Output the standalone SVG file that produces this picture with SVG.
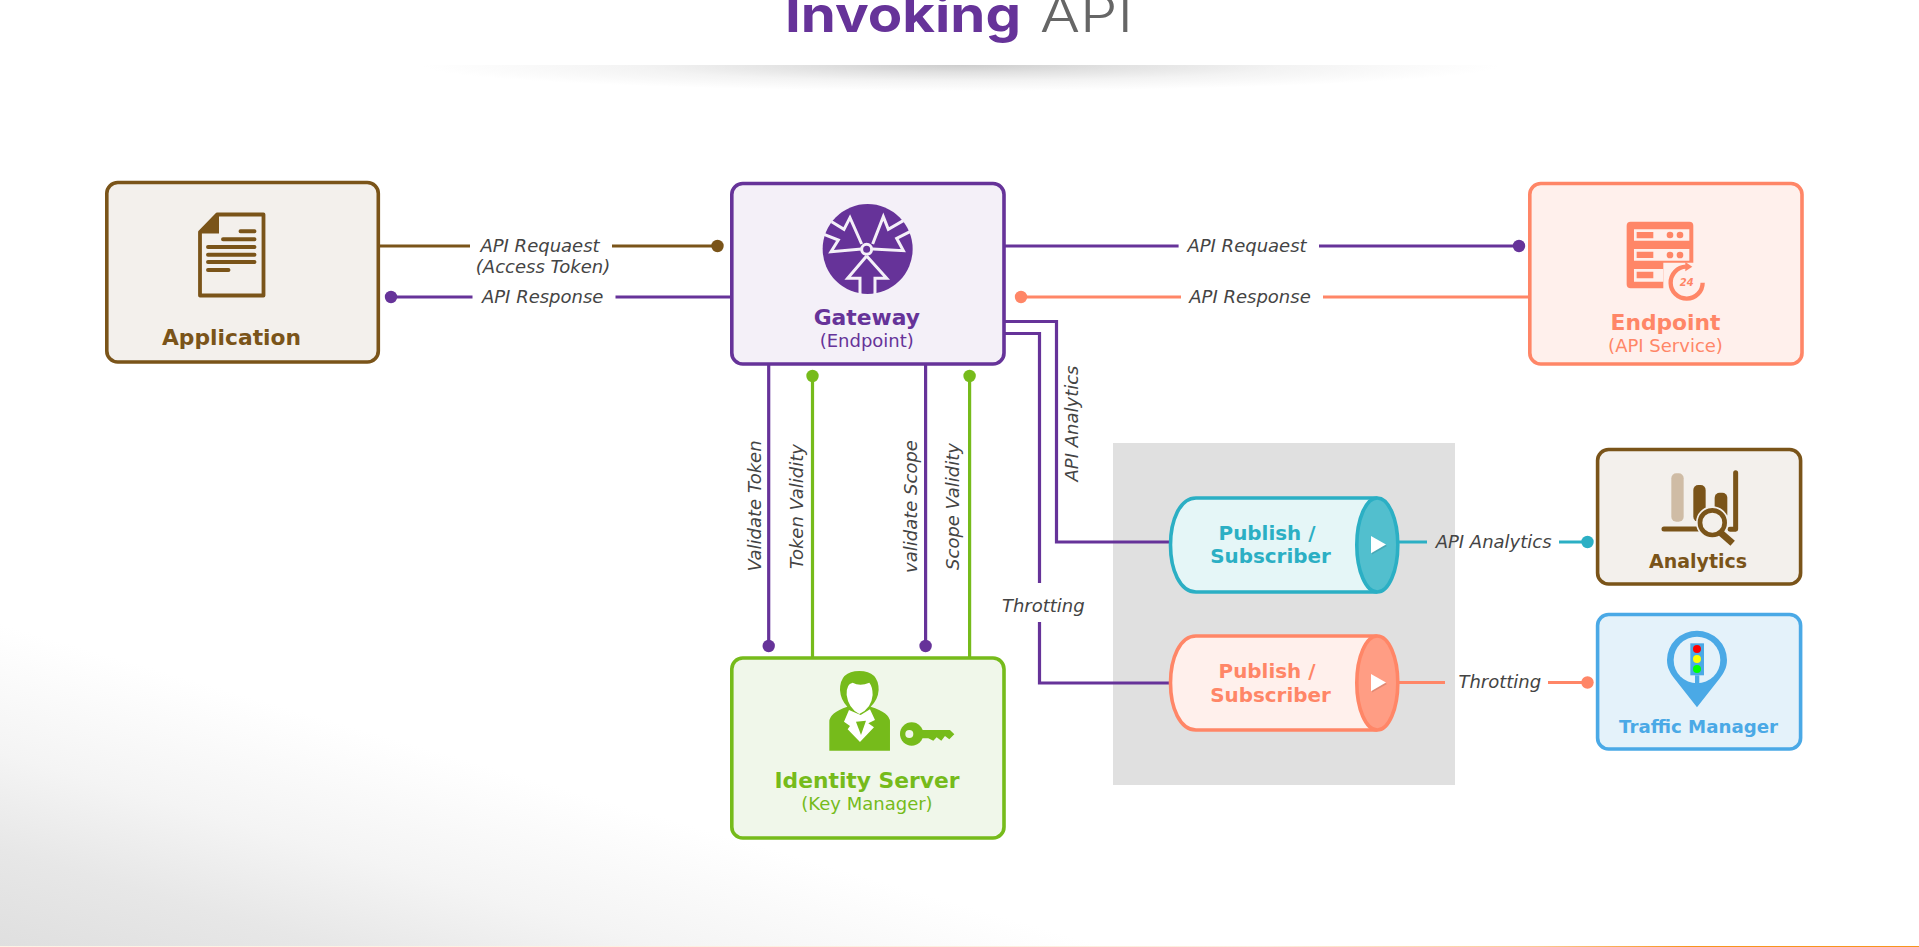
<svg xmlns="http://www.w3.org/2000/svg" width="1919" height="947" viewBox="0 0 1919 947">
<style>
text{font-family:"DejaVu Sans",sans-serif}
.box{stroke-width:3.6}
.b{font-weight:700;font-size:21.8px;text-anchor:middle}
.s{font-size:18px;text-anchor:middle}
.p{font-weight:700;font-size:19.9px;text-anchor:middle}
.e{font-size:18px;font-style:italic;fill:#444;text-anchor:middle}
.c{fill:none;stroke-width:3.2}
.brown{stroke:#7a5419}.purple{stroke:#663399}.salmon{stroke:#ff8667}.green{stroke:#76bb1b}.cyan{stroke:#2bafc4}
.dbrown{fill:#7a5419}.dpurple{fill:#663399}.dsalmon{fill:#ff8667}.dgreen{fill:#76bb1b}.dcyan{fill:#2bafc4}
</style>
<defs>
<linearGradient id="bg" gradientUnits="userSpaceOnUse" x1="0" y1="947" x2="87" y2="649">
<stop offset="0" stop-color="#dfdfdf"/><stop offset=".3" stop-color="#e7e7e7"/><stop offset=".6" stop-color="#f4f4f4"/><stop offset="1" stop-color="#fff"/>
</linearGradient>
<linearGradient id="bar"><stop offset="0" stop-color="#fff2e4"/><stop offset=".66" stop-color="#fdeedd"/><stop offset=".8" stop-color="#fbc994"/><stop offset=".88" stop-color="#f7941e"/><stop offset="1" stop-color="#f7941e"/></linearGradient>
<radialGradient id="sh"><stop offset="0" stop-color="#cdcdcd"/><stop offset=".3" stop-color="#e2e2e2"/><stop offset=".6" stop-color="#f3f3f3"/><stop offset="1" stop-color="#fff"/></radialGradient>
<clipPath id="shc"><rect x="400" y="65" width="1120" height="40"/></clipPath>
</defs>
<rect width="1919" height="947" fill="url(#bg)"/>
<rect y="946" width="1919" height="1" fill="url(#bar)"/>
<g id="title">
<ellipse cx="961" cy="65" rx="540" ry="26" fill="url(#sh)" clip-path="url(#shc)"/>
<text x="785" y="32" font-size="50" font-weight="700" fill="#663399" textLength="236" lengthAdjust="spacingAndGlyphs" style="font-family:Inter,sans-serif">Invoking</text>
<text x="1040" y="32" font-size="50" font-weight="300" fill="#666" textLength="93" lengthAdjust="spacingAndGlyphs" style="font-family:Inter,sans-serif">API</text>
</g>
<rect id="queue-zone" x="1113" y="443" width="342" height="342" fill="#e0e0e0"/>
<g id="connectors">
<path class="c brown" d="M379 246H470M612 246H717"/><circle class="dbrown" cx="717.5" cy="246" r="6.2"/>
<path class="c purple" d="M391 297H472.5M615.5 297H731"/><circle class="dpurple" cx="391" cy="297" r="6.2"/>
<path class="c purple" d="M1005 246H1178.6M1319 246H1519"/><circle class="dpurple" cx="1519" cy="246" r="6.2"/>
<path class="c salmon" d="M1021 297H1181M1323 297H1528"/><circle class="dsalmon" cx="1021" cy="297" r="6.2"/>
<path class="c purple" d="M768.7 365V646"/><circle class="dpurple" cx="768.7" cy="646" r="6.2"/>
<path class="c green" d="M812.5 376V657"/><circle class="dgreen" cx="812.5" cy="376" r="6.2"/>
<path class="c purple" d="M925.6 365V646"/><circle class="dpurple" cx="925.6" cy="646" r="6.2"/>
<path class="c green" d="M969.6 376V657"/><circle class="dgreen" cx="969.6" cy="376" r="6.2"/>
<path class="c purple" d="M1005 321.5H1056.5V542H1170"/>
<path class="c purple" d="M1005 333.5H1039.5V583M1039.5 622V683H1170"/>
<path class="c cyan" d="M1399 542H1427M1559 542H1587"/><circle class="dcyan" cx="1587.5" cy="542" r="6.2"/>
<path class="c salmon" d="M1399 682.5H1445M1548 682.5H1587"/><circle class="dsalmon" cx="1587.5" cy="682.5" r="6.2"/>
<text class="e" x="540" y="252">API Requaest</text>
<text class="e" x="543" y="273">(Access Token)</text>
<text class="e" x="542.7" y="303">API Response</text>
<text class="e" x="1247" y="252">API Requaest</text>
<text class="e" x="1250" y="303">API Response</text>
<text class="e" transform="translate(760.7 506) rotate(-90)">Validate Token</text>
<text class="e" transform="translate(802.7 506.5) rotate(-90)">Token Validity</text>
<text class="e" transform="translate(917.3 506.5) rotate(-90)">validate Scope</text>
<text class="e" transform="translate(959.3 506.5) rotate(-90)">Scope Validity</text>
<text class="e" transform="translate(1078 423.5) rotate(-90)">API Analytics</text>
<text class="e" x="1043.3" y="611.7">Throtting</text>
<text class="e" x="1493.6" y="547.7">API Analytics</text>
<text class="e" x="1499.8" y="688.3">Throtting</text>
</g>
<g id="application">
<rect class="box" x="106.8" y="182.5" width="271.5" height="179.5" rx="11" fill="#f3f0ec" stroke="#7a5419"/>
<path d="M217 214.5H263.5V295.5H200V232Z" fill="none" stroke="#7a5419" stroke-width="3.8" stroke-linejoin="round"/>
<path d="M217 213H219V233.5H199Z" fill="#7a5419"/>
<path d="M240.5 231.3H254.5M223 239.3H254.5M208 247H254.5M208 254.7H254.5M208 262H254.5M208 270H228.5" fill="none" stroke="#7a5419" stroke-width="3.9" stroke-linecap="round"/>
<text class="b" x="231.5" y="345" fill="#7a5419">Application</text>
</g>
<g id="gateway">
<rect class="box" x="731.8" y="183.5" width="272.2" height="180.5" rx="11" fill="#f4f0f8" stroke="#663399"/>
<g transform="translate(720 170) scale(.3333)">
<circle cx="443" cy="237" r="135" fill="#663399"/>
<path d="M425 222L390 143L372 178L335 155M312 193L355 210L333 245L425 237M458 222L490 140L505 178L550 152M570 185L530 205L550 242L458 237M440 258L383 325H420V372M440 258L500 325H465V372" fill="none" stroke="#f4f0f8" stroke-width="9"/>
<circle cx="440" cy="238" r="15" fill="#663399" stroke="#f4f0f8" stroke-width="9"/>
</g>
<text class="b" x="866.8" y="325" fill="#663399">Gateway</text>
<text class="s" x="866.8" y="346.7" fill="#663399">(Endpoint)</text>
</g>
<g id="endpoint">
<rect class="box" x="1529.8" y="183.5" width="272.2" height="180.5" rx="11" fill="#fff0ec" stroke="#ff8667"/>
<g transform="translate(1500 170) scale(.3333)">
<path d="M392 155H568Q580 155 580 167V278H490V355H392Q380 355 380 343V167Q380 155 392 155Z" fill="#ff8667"/>
<path d="M402 178H568V212H402ZM402 237H568V272H402ZM402 297H490V335H402Z" fill="#fff0ec"/>
<path d="M410 186H460V205H410ZM410 245H460V264H410ZM410 305H460V325H410Z" fill="#ff8667"/>
<circle cx="510" cy="195" r="10" fill="#ff8667"/><circle cx="540" cy="195" r="10" fill="#ff8667"/>
<circle cx="510" cy="255" r="10" fill="#ff8667"/><circle cx="540" cy="255" r="10" fill="#ff8667"/>
<path d="M608 338A48 48 0 1 1 558 290" fill="none" stroke="#ff8667" stroke-width="13"/>
<path d="M556 276L577 290L556 304Z" fill="#ff8667"/>
<text x="560" y="349" font-size="30" font-weight="700" font-style="italic" fill="#ff8667" text-anchor="middle">24</text>
</g>
<text class="b" x="1665.5" y="330" fill="#ff8667">Endpoint</text>
<text class="s" x="1665.5" y="351.7" fill="#ff8667">(API Service)</text>
</g>
<g id="identity-server">
<rect class="box" x="731.8" y="658" width="272.2" height="180" rx="11" fill="#f0f7ea" stroke="#76bb1b"/>
<g transform="translate(720 640) scale(.3333)">
<path d="M328 332V245Q328 218 382 200Q362 180 360 150Q360 93 418 93Q476 93 476 150Q474 180 452 200Q510 218 510 245V332Z" fill="#76bb1b"/>
<path d="M380 165Q378 132 398 128Q420 140 448 128Q458 140 458 165Q455 205 418 222Q385 205 380 165Z" fill="#fff"/>
<path d="M387 210L372 245L390 258L383 268L420 306L462 262L445 250L465 240L450 208L422 225Z" fill="#fff"/>
<path d="M408 245L438 242L423 285Z" fill="#76bb1b"/>
<circle cx="575" cy="282" r="35" fill="#76bb1b"/><circle cx="568" cy="282" r="12" fill="#f0f7ea"/>
<path d="M600 270H690L703 283L688 298L675 288L664 302L650 292L640 302L625 295H600Z" fill="#76bb1b"/>
</g>
<text class="b" x="867" y="788" fill="#76bb1b">Identity Server</text>
<text class="s" x="867" y="810" fill="#76bb1b">(Key Manager)</text>
</g>
<g id="queue-analytics">
<path class="box" d="M1377.3 498H1196C1180 498 1170.5 520 1170.5 545C1170.5 570 1180 592 1196 592H1377.3" fill="#e5f6f7" stroke="#2bafc4"/>
<ellipse class="box" cx="1377.3" cy="545" rx="20.5" ry="47" fill="#52bfce" stroke="#2bafc4"/>
<path d="M1372 537.5L1387 546L1372 554.5Z" fill="#000" opacity=".12"/>
<path d="M1371 536L1386 544.6L1371 553.3Z" fill="#fff"/>
<text class="p" x="1267" y="540" fill="#2bafc4">Publish /</text>
<text class="p" x="1270.5" y="563.3" fill="#2bafc4">Subscriber</text>
</g>
<g id="queue-throttling">
<path class="box" d="M1377.3 636H1196C1180 636 1170.5 658 1170.5 683C1170.5 708 1180 730 1196 730H1377.3" fill="#fff0ec" stroke="#ff8667"/>
<ellipse class="box" cx="1377.3" cy="683" rx="20.5" ry="47" fill="#ff9d84" stroke="#ff8667"/>
<path d="M1372 675.5L1387 684L1372 692.5Z" fill="#000" opacity=".12"/>
<path d="M1371 674L1386 682.6L1371 691.3Z" fill="#fff"/>
<text class="p" x="1267" y="678" fill="#ff8667">Publish /</text>
<text class="p" x="1270.5" y="701.7" fill="#ff8667">Subscriber</text>
</g>
<g id="analytics">
<rect class="box" x="1597.6" y="449.5" width="203" height="134.5" rx="11" fill="#f3f0ec" stroke="#7a5419"/>
<g transform="translate(1590 440) scale(.3333)">
<rect x="244" y="100" width="37" height="145" rx="15" fill="#cfbca5"/>
<rect x="310" y="135" width="37" height="110" rx="15" fill="#7a5419"/>
<rect x="374" y="158" width="38" height="80" rx="15" fill="#7a5419"/>
<path d="M437 98V268H420" fill="none" stroke="#7a5419" stroke-width="15" stroke-linecap="round" stroke-linejoin="round"/>
<path d="M222 267H330" fill="none" stroke="#7a5419" stroke-width="15" stroke-linecap="round"/>
<circle cx="367" cy="248" r="44" fill="none" stroke="#f3f0ec" stroke-width="10"/>
<path d="M392 278L428 310" stroke="#7a5419" stroke-width="20"/>
<circle cx="367" cy="248" r="37" fill="#f3f0ec" stroke="#7a5419" stroke-width="14"/>
</g>
<text class="b" x="1698" y="568" fill="#7a5419" style="font-size:19px">Analytics</text>
</g>
<g id="traffic-manager">
<rect class="box" x="1597.6" y="614.5" width="203" height="134.5" rx="11" fill="#e4f2fa" stroke="#4aa9e6"/>
<g transform="translate(1590 440) scale(.3333)">
<path d="M321 572A90 88 0 0 1 411 660C411 685 400 700 390 714L321 802L252 714C242 700 231 685 231 660A90 88 0 0 1 321 572Z" fill="#4aa9e6"/>
<circle cx="321" cy="660" r="70" fill="#e4f2fa"/>
<rect x="301" y="610" width="41" height="96" fill="#4aa9e6"/>
<rect x="315" y="706" width="13" height="35" fill="#4aa9e6"/>
<circle cx="321" cy="627" r="12" fill="#f00"/><circle cx="321" cy="657" r="12" fill="#ff0"/><circle cx="321" cy="687" r="12" fill="#0f0"/>
</g>
<text class="b" x="1698.5" y="732.7" fill="#4aa9e6" style="font-size:18.2px">Traffic Manager</text>
</g>
</svg>
